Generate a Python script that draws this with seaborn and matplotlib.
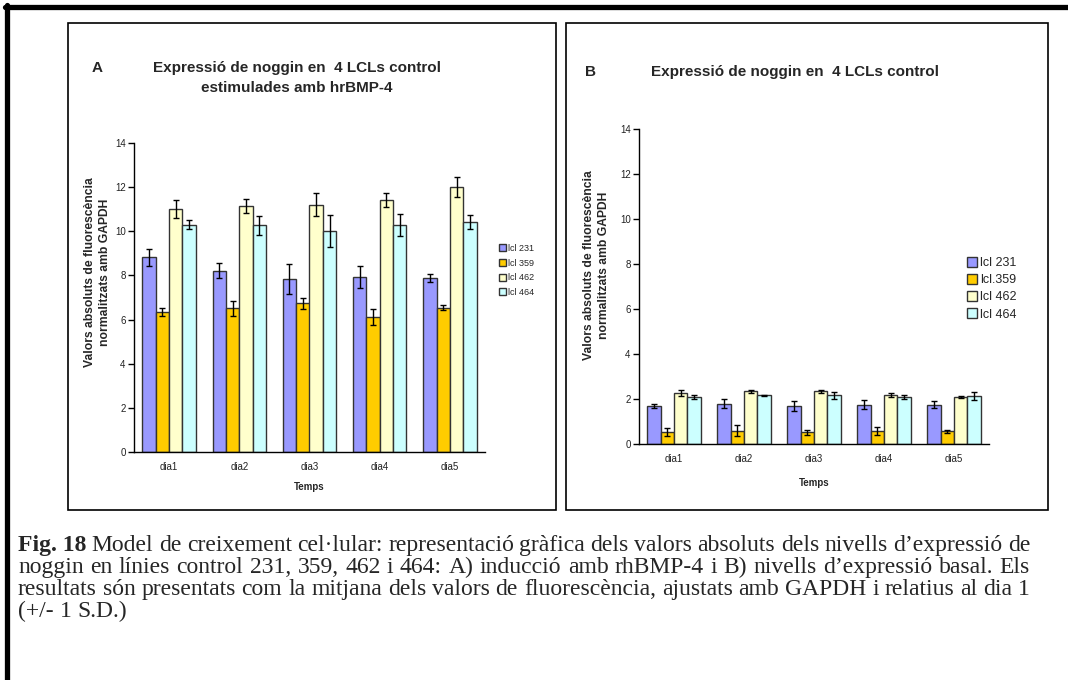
import numpy as np
import pandas as pd
import matplotlib
matplotlib.use("Agg")
import matplotlib.pyplot as plt
import seaborn as sns
from matplotlib.patches import Rectangle
from matplotlib.lines import Line2D

# ---------------- data ----------------
days = ["dia1", "dia2", "dia3", "dia4", "dia5"]
labels_a = ["lcl 231", "lcl 359", "lcl 462", "lcl 464"]
labels_b = ["lcl 231", "lcl.359", "lcl 462", "lcl 464"]

a_231 = [8.82, 8.22, 7.84, 7.93, 7.88]
a_359 = [6.33, 6.51, 6.74, 6.12, 6.54]
a_462 = [11.01, 11.13, 11.21, 11.42, 11.99]
a_464 = [10.30, 10.27, 10.02, 10.27, 10.41]
a_sd_231 = [0.40, 0.34, 0.66, 0.51, 0.17]
a_sd_359 = [0.18, 0.33, 0.26, 0.35, 0.10]
a_sd_462 = [0.41, 0.32, 0.52, 0.30, 0.45]
a_sd_464 = [0.20, 0.42, 0.72, 0.50, 0.31]

b_231 = [1.70, 1.79, 1.70, 1.75, 1.75]
b_359 = [0.52, 0.59, 0.52, 0.59, 0.56]
b_462 = [2.27, 2.34, 2.34, 2.19, 2.09]
b_464 = [2.09, 2.16, 2.16, 2.09, 2.12]
b_sd_231 = [0.08, 0.19, 0.22, 0.20, 0.16]
b_sd_359 = [0.17, 0.24, 0.12, 0.18, 0.07]
b_sd_462 = [0.14, 0.07, 0.07, 0.08, 0.06]
b_sd_464 = [0.07, 0.02, 0.15, 0.07, 0.18]

yticks = [0, 2, 4, 6, 8, 10, 12, 14]
colors = ["#9999FF", "#FFCC00", "#FFFFCC", "#CCFFFF"]

title_a = "Expressió de noggin en  4 LCLs control\nestimulades amb hrBMP-4"
title_b = "Expressió de noggin en  4 LCLs control"
ylabel = "Valors absoluts de fluorescència\nnormalitzats amb GAPDH"
caption_bold = "Fig. 18"
caption_lines = [
    "Model de creixement cel·lular: representació gràfica dels valors absoluts dels nivells d’expressió de",
    "noggin en línies control  231, 359, 462 i 464: A) inducció amb rhBMP-4 i B) nivells d’expressió basal. Els",
    "resultats són presentats com la mitjana dels valors de fluorescència, ajustats amb GAPDH i relatius al dia 1",
    "(+/- 1 S.D.)",
]

sns.set_style("white")
plt.rcParams["font.family"] = ["Liberation Sans", "DejaVu Sans"]

W, H = 1068, 680
fig = plt.figure(figsize=(W / 100, H / 100), dpi=100)


def fx(px):
    return px / W


def fy(py):
    return 1 - py / H


def make_df(series, names):
    rows = []
    for vals, nm in zip(series, names):
        for d, v in zip(days, vals):
            rows.append({"dia": d, "val": v, "line": nm})
    return pd.DataFrame(rows)


def draw_panel(ax, series, sds, names, legend_xy, legend_fs, legend_sp, xlab_y, ylab_x, ylab_y):
    df = make_df(series, names)
    sns.barplot(data=df, x="dia", y="val", hue="line", order=days, hue_order=names,
                palette=colors, saturation=1, width=0.76, errorbar=None, edgecolor="#333333",
                linewidth=1.0, legend=False, ax=ax)
    for cont, sd in zip(ax.containers, sds):
        xs = [b.get_x() + b.get_width() / 2 for b in cont]
        ys = [b.get_height() for b in cont]
        ax.errorbar(xs, ys, yerr=sd, fmt="none", ecolor="black", elinewidth=1.0,
                    capsize=2.0, capthick=1.0, zorder=5)
    ax.set_ylim(0, 14)
    ax.set_xlim(-0.5, 4.5)
    ax.set_yticks(yticks)
    ax.set_xticks(range(len(days)))
    ax.set_xticklabels(days)
    ax.set_xticks(np.arange(-0.5, 5.0, 1.0), minor=True)
    ax.tick_params(axis="x", which="major", length=0, pad=7, labelsize=7, colors="#222222")
    ax.tick_params(axis="x", which="minor", length=4, width=1, color="black", direction="out")
    ax.tick_params(axis="y", which="major", length=4, width=1, color="black", direction="out",
                   labelsize=7, pad=2, labelcolor="#222222", left=True)
    for s in ["top", "right"]:
        ax.spines[s].set_visible(False)
    for s in ["left", "bottom"]:
        ax.spines[s].set_color("black")
        ax.spines[s].set_linewidth(1.0)
    ax.set_facecolor("white")
    ax.set_xlabel("Temps", fontsize=7, fontweight="bold")
    ax.xaxis.set_label_coords(0.5, xlab_y)
    ax.set_ylabel(ylabel, fontsize=8.7, fontweight="bold", linespacing=1.3)
    ax.yaxis.set_label_coords(ylab_x, ylab_y)
    handles = [Rectangle((0, 0), 1, 1, facecolor=c, edgecolor="#333333", linewidth=1.0) for c in colors]
    ax.legend(handles, names, loc="upper left", bbox_to_anchor=legend_xy,
              bbox_transform=fig.transFigure, frameon=False, fontsize=legend_fs,
              handlelength=0.8, handleheight=0.8, handletextpad=0.25,
              labelspacing=legend_sp, borderpad=0, borderaxespad=0)


ax_a = fig.add_axes([fx(134), fy(452), fx(485) - fx(134), fy(143) - fy(452)])
draw_panel(ax_a, [a_231, a_359, a_462, a_464], [a_sd_231, a_sd_359, a_sd_462, a_sd_464],
           labels_a, (fx(499), fy(244)), 6.5, 0.62,
           (452 - 482) / 309, (111 - 134) / 351, (452 - 272) / 309)

ax_b = fig.add_axes([fx(639), fy(444), fx(989) - fx(639), fy(129) - fy(444)])
draw_panel(ax_b, [b_231, b_359, b_462, b_464], [b_sd_231, b_sd_359, b_sd_462, b_sd_464],
           labels_b, (fx(967), fy(257)), 9, 0.4,
           (444 - 478) / 315, (610 - 639) / 350, (444 - 265) / 315)

# panel frames
for x0, x1 in [(68, 556), (566, 1048)]:
    fig.add_artist(Rectangle((fx(x0), fy(510)), fx(x1) - fx(x0), fy(23) - fy(510),
                             transform=fig.transFigure, fill=False, edgecolor="black", linewidth=1.2))
# outer page frame
fig.add_artist(Line2D([fx(5), 1.0], [fy(7), fy(7)], transform=fig.transFigure, color="black", linewidth=3.8))
fig.add_artist(Line2D([fx(7), fx(7)], [fy(5.2), 0.0], transform=fig.transFigure, color="black", linewidth=3.8))

# titles
fig.text(fx(97), fy(68), "A", fontsize=11, fontweight="bold", ha="center", va="center")
fig.text(fx(297), fy(78), title_a, fontsize=11, fontweight="bold", ha="center", va="center", linespacing=1.5)
fig.text(fx(591), fy(72), "B", fontsize=11, fontweight="bold", ha="center", va="center")
fig.text(fx(795), fy(72), title_b, fontsize=11, fontweight="bold", ha="center", va="center")

# caption (justified like the source page)
serif = ["Liberation Serif", "DejaVu Serif"]
cap_fs = 17.0
baselines = [551, 573, 595, 617]
left_px, right_px = 18, 1030
fig.canvas.draw()
renderer = fig.canvas.get_renderer()


def word_w(word, bold):
    t = fig.text(0, 0, word, fontsize=cap_fs, family=serif, fontweight="bold" if bold else "normal")
    w = t.get_window_extent(renderer=renderer).width
    t.remove()
    return w


def put_line(tokens, yb, justify):
    widths = [word_w(w, b) for w, b in tokens]
    space = word_w("a b", False) - word_w("ab", False)
    if justify and len(tokens) > 1:
        gap = (right_px - left_px - sum(widths)) / (len(tokens) - 1)
    else:
        gap = space
    x = left_px
    for (w, b), wd in zip(tokens, widths):
        fig.text(fx(x), fy(yb), w, fontsize=cap_fs, family=serif,
                 fontweight="bold" if b else "normal", va="baseline", ha="left")
        x += wd + gap


tok_lines = [[(caption_bold, True)] + [(w, False) for w in caption_lines[0].split()]]
tok_lines += [[(w, False) for w in ln.split()] for ln in caption_lines[1:]]
for i, (toks, yb) in enumerate(zip(tok_lines, baselines)):
    put_line(toks, yb, justify=(i < 3))

fig.savefig("out.png", dpi=100, facecolor="white")
